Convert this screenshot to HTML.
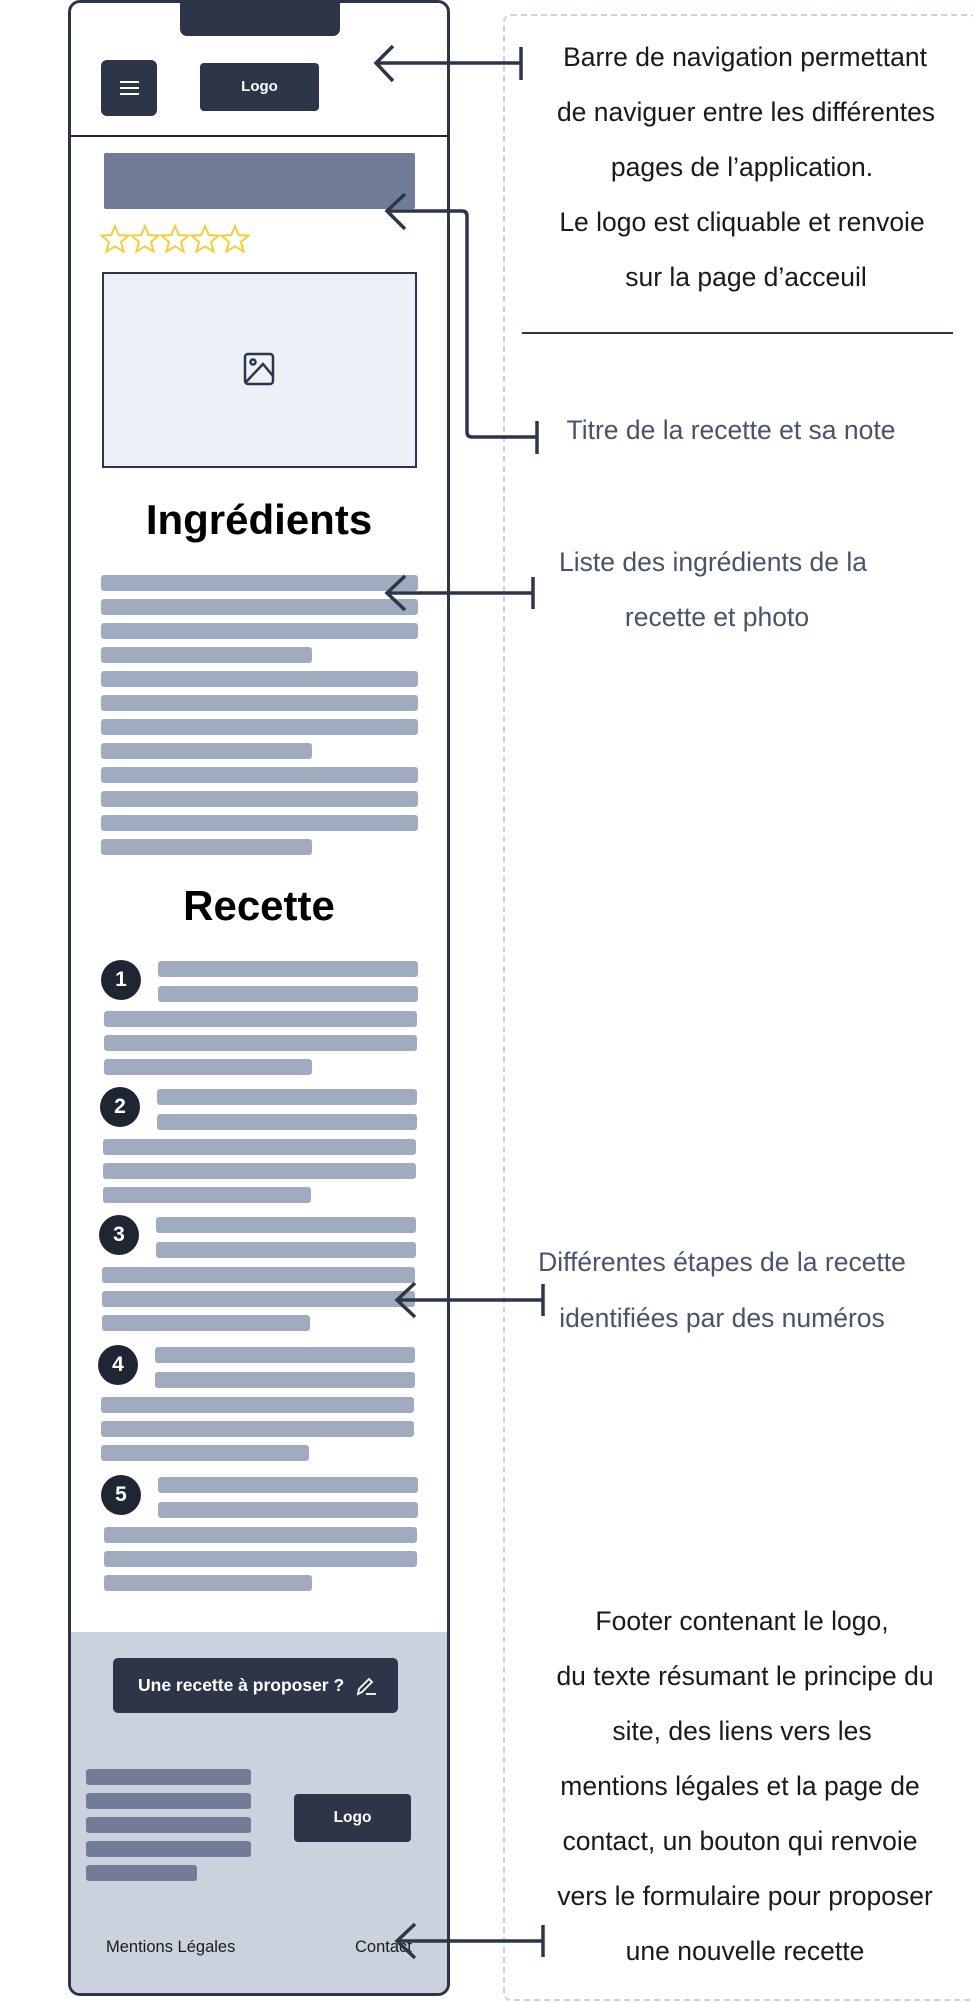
<!DOCTYPE html>
<html><head><meta charset="utf-8"><style>
*{margin:0;padding:0;box-sizing:border-box}
body{width:973px;height:2003px;position:relative;background:#fff;font-family:"Liberation Sans",sans-serif;overflow:hidden}
.a{position:absolute}
.bar{position:absolute;background:#a0abbf;height:16px;border-radius:3px}
.fb{position:absolute;background:#717d96;height:16px;border-radius:3px;left:86px;width:165px}
.num{position:absolute;width:40px;height:40px;border-radius:50%;background:#1e2533;color:#fff;font-weight:bold;font-size:21px;text-align:center;line-height:40px}
.t{position:absolute;text-align:center;font-size:26.5px;white-space:nowrap;transform:translateX(-50%)}
.dk{color:#1a1a1a}.gr{color:#4a5468}
</style></head><body>
<div class="a" style="left:503px;top:14px;width:475px;height:1987px;border:2px dashed #cbd2de;border-radius:8px"></div>
<div class="a" style="left:68px;top:0;width:382px;height:1996px;border:3px solid #2d3648;border-radius:12px;overflow:hidden">
  <div class="a" style="left:0;top:1629px;width:380px;height:370px;background:#cbd2de"></div>
</div>
<div class="a" style="left:180px;top:0;width:160px;height:36px;background:#2d3648;border-radius:0 0 7px 7px"></div>
<div class="a" style="left:101px;top:60px;width:56px;height:56px;background:#2d3648;border-radius:6px">
  <div class="a" style="left:19px;top:21px;width:19px;height:2px;background:#fff"></div>
  <div class="a" style="left:19px;top:27px;width:19px;height:2px;background:#fff"></div>
  <div class="a" style="left:19px;top:33px;width:19px;height:2px;background:#fff"></div>
</div>
<div class="a" style="left:200px;top:63px;width:119px;height:48px;background:#2d3648;border-radius:4px;color:#fff;font-weight:bold;font-size:15px;text-align:center;line-height:48px">Logo</div>
<div class="a" style="left:71px;top:135px;width:378px;height:2px;background:#1e2533"></div>
<div class="a" style="left:104px;top:153px;width:311px;height:56px;background:#717d96;border-radius:2px"></div>
<svg class="a" style="left:100px;top:224px" width="160" height="32" viewBox="0 0 160 32">
<g fill="none" stroke="#f7cd3a" stroke-width="2" stroke-linejoin="miter">
<path id="s" d="M15 2 L18.8 11 L28.5 11.6 L21 18 L23.6 27.6 L15 22.3 L6.4 27.6 L9 18 L1.5 11.6 L11.2 11 Z"/>
<use href="#s" x="30"/><use href="#s" x="60"/><use href="#s" x="90"/><use href="#s" x="120"/>
</g></svg>
<div class="a" style="left:102px;top:272px;width:315px;height:196px;background:#edf0f7;border:2px solid #2d3648"></div>
<svg class="a" style="left:243px;top:352px" width="32" height="34" viewBox="0 0 32 34"><g fill="none" stroke="#2d3648" stroke-width="2.5"><rect x="2" y="2" width="28" height="30" rx="3"/><circle cx="10" cy="10" r="2.5"/><path d="M3 30 L20 12 L30 24"/></g></svg>
<div class="a" style="left:69px;top:496px;width:380px;text-align:center;font-weight:bold;font-size:42px;color:#000">Ingrédients</div>
<div class="bar" style="left:101px;top:575px;width:317px"></div>
<div class="bar" style="left:101px;top:599px;width:317px"></div>
<div class="bar" style="left:101px;top:623px;width:317px"></div>
<div class="bar" style="left:101px;top:647px;width:211px"></div>
<div class="bar" style="left:101px;top:671px;width:317px"></div>
<div class="bar" style="left:101px;top:695px;width:317px"></div>
<div class="bar" style="left:101px;top:719px;width:317px"></div>
<div class="bar" style="left:101px;top:743px;width:211px"></div>
<div class="bar" style="left:101px;top:767px;width:317px"></div>
<div class="bar" style="left:101px;top:791px;width:317px"></div>
<div class="bar" style="left:101px;top:815px;width:317px"></div>
<div class="bar" style="left:101px;top:839px;width:211px"></div>
<div class="a" style="left:69px;top:882px;width:380px;text-align:center;font-weight:bold;font-size:42px;color:#000">Recette</div>
<div class="num" style="left:101px;top:960px">1</div>
<div class="bar" style="left:158px;top:961px;width:260px"></div>
<div class="bar" style="left:158px;top:986px;width:260px"></div>
<div class="bar" style="left:104px;top:1011px;width:313px"></div>
<div class="bar" style="left:104px;top:1035px;width:313px"></div>
<div class="bar" style="left:104px;top:1059px;width:208px"></div>
<div class="num" style="left:100px;top:1087px">2</div>
<div class="bar" style="left:157px;top:1089px;width:260px"></div>
<div class="bar" style="left:157px;top:1114px;width:260px"></div>
<div class="bar" style="left:103px;top:1139px;width:313px"></div>
<div class="bar" style="left:103px;top:1163px;width:313px"></div>
<div class="bar" style="left:103px;top:1187px;width:208px"></div>
<div class="num" style="left:99px;top:1215px">3</div>
<div class="bar" style="left:156px;top:1217px;width:260px"></div>
<div class="bar" style="left:156px;top:1242px;width:260px"></div>
<div class="bar" style="left:102px;top:1267px;width:313px"></div>
<div class="bar" style="left:102px;top:1291px;width:313px"></div>
<div class="bar" style="left:102px;top:1315px;width:208px"></div>
<div class="num" style="left:98px;top:1345px">4</div>
<div class="bar" style="left:155px;top:1347px;width:260px"></div>
<div class="bar" style="left:155px;top:1372px;width:260px"></div>
<div class="bar" style="left:101px;top:1397px;width:313px"></div>
<div class="bar" style="left:101px;top:1421px;width:313px"></div>
<div class="bar" style="left:101px;top:1445px;width:208px"></div>
<div class="num" style="left:101px;top:1475px">5</div>
<div class="bar" style="left:158px;top:1477px;width:260px"></div>
<div class="bar" style="left:158px;top:1502px;width:260px"></div>
<div class="bar" style="left:104px;top:1527px;width:313px"></div>
<div class="bar" style="left:104px;top:1551px;width:313px"></div>
<div class="bar" style="left:104px;top:1575px;width:208px"></div>
<div class="a" style="left:113px;top:1658px;width:285px;height:55px;background:#2d3648;border-radius:5px;color:#fff;font-weight:bold;font-size:17.5px;line-height:55px;padding-left:25px">Une recette à proposer ?
<svg class="a" style="left:243px;top:18px" width="22" height="20" viewBox="0 0 22 20"><g fill="none" stroke="#fff" stroke-width="1.8"><path d="M2 18 L3 13 L13 3 L16 6 L6 16 Z"/><path d="M10 18 H20"/></g></svg></div>
<div class="fb" style="top:1769px"></div>
<div class="fb" style="top:1793px"></div>
<div class="fb" style="top:1817px"></div>
<div class="fb" style="top:1841px"></div>
<div class="fb" style="top:1865px;width:111px"></div>
<div class="a" style="left:294px;top:1794px;width:117px;height:48px;background:#2d3648;border-radius:4px;color:#fff;font-weight:bold;font-size:15.5px;text-align:center;line-height:48px">Logo</div>
<div class="a" style="left:106px;top:1938px;font-size:16.5px;color:#1a1a1a">Mentions Légales</div>
<div class="a" style="left:355px;top:1938px;font-size:16.5px;color:#1a1a1a">Contact</div>
<svg class="a" style="left:0;top:0" width="973" height="2003">
<g fill="none" stroke="#2d3648" stroke-width="3.5">
<path d="M376 63 H521"/><path d="M393 46 L376 63 L393 81"/><path d="M521 47 V80"/>
<path d="M387 211 H462 Q467 211 467 216 V432 Q467 437 472 437 H537"/><path d="M405 194 L387 211 L405 229"/><path d="M537 421 V454"/>
<path d="M387 593 H533"/><path d="M405 576 L387 593 L405 610"/><path d="M533 577 V609"/>
<path d="M397 1300 H543"/><path d="M415 1283 L397 1300 L415 1317"/><path d="M543 1284 V1316"/>
<path d="M397 1941 H543"/><path d="M415 1924 L397 1941 L415 1958"/><path d="M543 1925 V1957"/>
</g>
<path d="M522 333 H953" stroke="#2d3648" stroke-width="2"/>
</svg>
<div class="t dk" style="left:745px;top:42px">Barre de navigation permettant</div>
<div class="t dk" style="left:746px;top:97px">de naviguer entre les différentes</div>
<div class="t dk" style="left:742px;top:152px">pages de l’application.</div>
<div class="t dk" style="left:742px;top:207px">Le logo est cliquable et renvoie</div>
<div class="t dk" style="left:746px;top:262px">sur la page d’acceuil</div>
<div class="t gr" style="left:731px;top:415px">Titre de la recette et sa note</div>
<div class="t gr" style="left:713px;top:547px">Liste des ingrédients de la</div>
<div class="t gr" style="left:717px;top:602px">recette et photo</div>
<div class="t gr" style="left:722px;top:1247px">Différentes étapes de la recette</div>
<div class="t gr" style="left:722px;top:1303px">identifiées par des numéros</div>
<div class="t dk" style="left:742px;top:1606px">Footer contenant le logo,</div>
<div class="t dk" style="left:745px;top:1661px">du texte résumant le principe du</div>
<div class="t dk" style="left:742px;top:1716px">site, des liens vers les</div>
<div class="t dk" style="left:740px;top:1771px">mentions légales et la page de</div>
<div class="t dk" style="left:740px;top:1826px">contact, un bouton qui renvoie</div>
<div class="t dk" style="left:745px;top:1881px">vers le formulaire pour proposer</div>
<div class="t dk" style="left:745px;top:1936px">une nouvelle recette</div>
</body></html>
